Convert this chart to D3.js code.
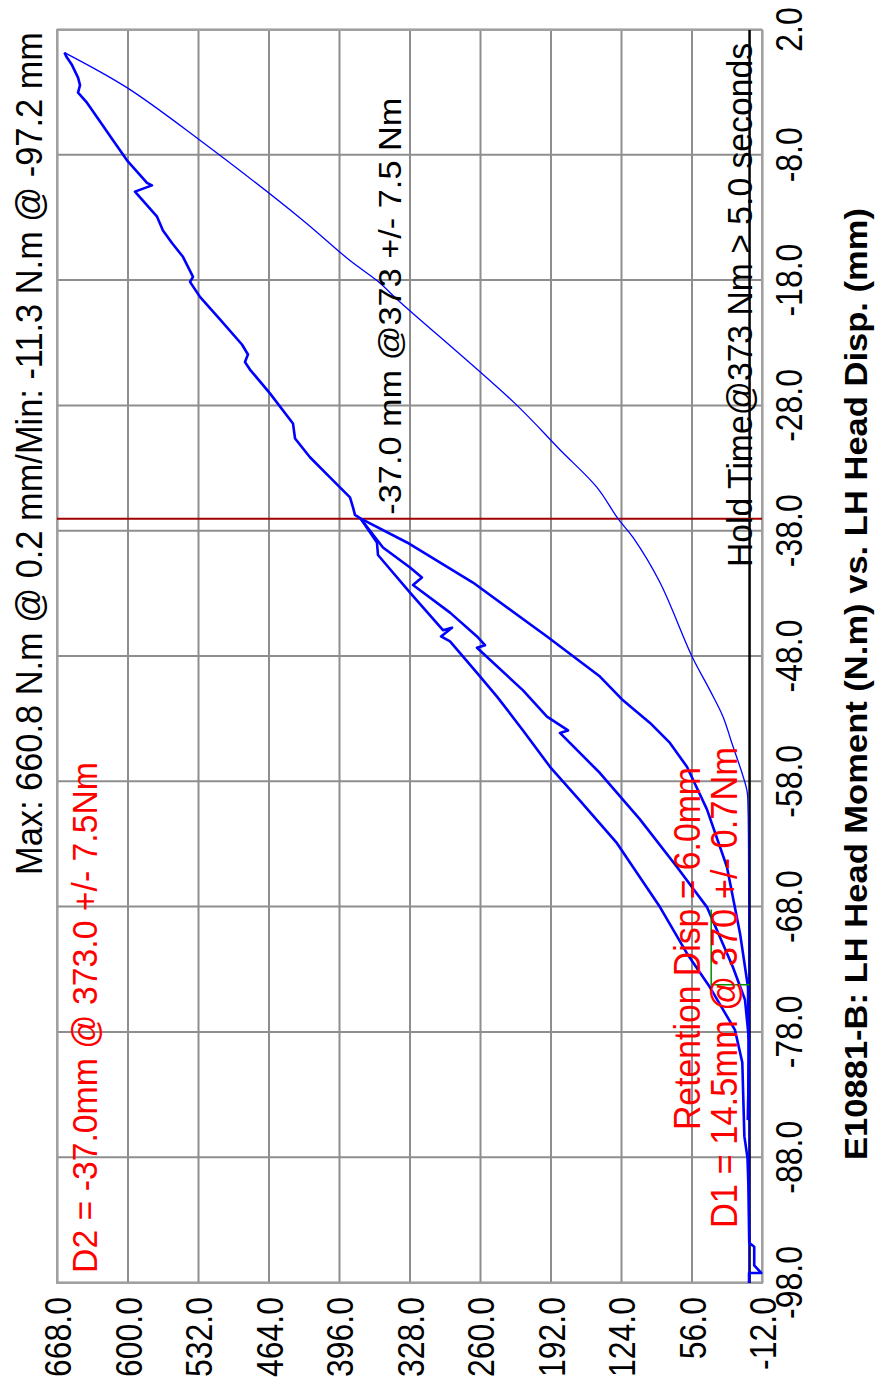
<!DOCTYPE html>
<html>
<head>
<meta charset="utf-8">
<script src="https://cdn.jsdelivr.net/npm/d3@7"></script>
<style>
body { margin: 0; background: #fff; }
svg { display: block; }
text { font-family: "Liberation Sans", Arial, sans-serif; }
</style>
</head>
<body>
<div id="chart"></div>
<script>
// tick labels
const dispTicks = [2, -8, -18, -28, -38, -48, -58, -68, -78, -88, -98];
const momentTicks = [668, 600, 532, 464, 396, 328, 260, 192, 124, 56, -12];

// hold point / retention marker
const holdDisp = -37.0;
const retentionDisp = [-68.2, -74.2];
const retentionMoment = 37;

// [disp mm, moment N.m]
const startPath = [[-98, 0.5], [-97.2, 0.5], [-97.2, -11.3], [-96.6, -4.5], [-95.1, -4.5], [-94.8, 0.3],
    [-90, 1.2], [-88, 2], [-86.3, 5], [-80.4, 7], [-77.8, 14.1], [-74.4, 38.2], [-71.7, 60.4], [-68.0, 86.4],
    [-62.9, 127.9], [-59.5, 163.6], [-56.8, 192.5], [-53.9, 218.5], [-51.2, 243.6], [-49.3, 262.9],
    [-46.8, 288.9], [-46.4, 297.6], [-45.7, 287], [-45.9, 295.7], [-42.9, 327.5], [-39.9, 358.4],
    [-38.9, 359.4], [-37.0, 375]];
const unloadPath = [[-37.0, 375], [-38.9, 330.4], [-42.1, 266.8], [-46.4, 195.4], [-49.6, 144.3],
    [-51.5, 122.1], [-53.3, 96.0], [-54.9, 76.8], [-56.8, 60.4], [-60.2, 41.1], [-64.8, 21.8],
    [-70.1, 9.2], [-74.4, 1.5], [-80, 0.8], [-85, 1.5]];
const reloadPath = [[-85, 1.5], [-78.6, 0.6], [-75.4, 4.4], [-72.8, 16.0], [-68.0, 41.1], [-64.8, 70.0],
    [-61.0, 105.7], [-57.3, 144.3], [-54.1, 182.9], [-53.9, 175.1], [-52.8, 195.4], [-50.7, 218.5],
    [-47.3, 262.9], [-47.1, 255.2], [-46.4, 262.9], [-44.5, 288.9], [-42.3, 324.6], [-41.7, 316.0],
    [-40.9, 327.5], [-39.3, 353.6], [-37.0, 375]];
const peakPath = [[-37.0, 375], [-36.7, 380.6], [-36.1, 382.5], [-35.3, 385.4], [-33.7, 404.7],
    [-32.1, 424.0], [-30.6, 438.4], [-29.4, 440.4], [-27.0, 462.6], [-25.1, 481.9], [-24.5, 486.7],
    [-23.9, 483.8], [-23.1, 489.6], [-21.1, 510.8], [-19.3, 530.1], [-18.1, 539.7], [-17.7, 536.8],
    [-16.1, 546.5], [-15.0, 557.1], [-14.0, 565.8], [-12.9, 571.5], [-10.9, 592.8], [-10.4, 576.4],
    [-10.2, 581.2], [-8.4, 600.5], [-6.8, 614.0], [-5.3, 626.5], [-3.8, 639.1], [-3.0, 647.7],
    [-2.4, 645.8], [-1.8, 647.7], [-0.8, 653.5], [-0.2, 658.4], [0.2, 660.8]];
const returnPath = [[0.2, 660.8], [-2.6, 600.5], [-6.8, 530.1], [-13.0, 433.6], [-16.4, 385.4],
    [-18.0, 359.4], [-19.7, 337.2], [-27.8, 226.3], [-31.5, 182.9], [-34.5, 147.2], [-37.0, 126.9],
    [-38.5, 112.4], [-42.1, 86.4], [-48.0, 55.5], [-50.7, 38.2], [-52.8, 25.6], [-54.8, 17.5],
    [-58.7, 2.5], [-60, 1.5], [-70, 0.8], [-85, 0.5], [-98, 0.3]];

const summaryText = 'Max: 660.8 N.m @ 0.2 mm/Min: -11.3 N.m @ -97.2 mm';
const titleText = 'E10881-B: LH Head Moment (N.m) vs. LH Head Disp. (mm)';
const holdLabel = '-37.0 mm @373 +/- 7.5 Nm';
const holdTimeLabel = 'Hold Time@373 Nm > 5.0 seconds';
const d2Label = 'D2 = -37.0mm @ 373.0 +/- 7.5Nm';
const retentionLabel = 'Retention Disp = 6.0mm';
const d1Label = 'D1 = 14.5mm @ 370 +/- 0.7Nm';

const width = 882, height = 1383;
const plotLen = 1253;  // displacement axis (screen vertical)
const plotDepth = 705; // moment axis (screen horizontal)

const svg = d3.select('#chart').append('svg')
    .attr('width', width)
    .attr('height', height);

// chart is drawn upright then turned a quarter left
const g = svg.append('g').attr('transform', 'translate(57,1283) rotate(-90)');

const x = d3.scaleLinear().domain([-98, 2]).range([0, plotLen]);
const y = d3.scaleLinear().domain([-12, 668]).range([plotDepth, 0]);
const fmt = d => d.toFixed(1);

const xAxis = g.append('g')
    .attr('transform', `translate(0,${plotDepth})`)
    .call(d3.axisBottom(x).tickValues(dispTicks).tickSize(plotDepth).tickFormat(fmt));
xAxis.selectAll('line').attr('y2', -plotDepth);
const yAxis = g.append('g')
    .call(d3.axisLeft(y).tickValues(momentTicks).tickSize(-plotLen).tickFormat(fmt));

[xAxis, yAxis].forEach(ax => {
    ax.select('.domain').remove();
    ax.selectAll('line').attr('stroke', '#8e8e8e').attr('stroke-width', 2);
    ax.selectAll('text').attr('fill', '#000').style('font-size', '32px')
        .attr('x', null).attr('y', null).attr('dy', null);
});
xAxis.selectAll('text').attr('transform', 'translate(0,40) scale(1,1.18)');
yAxis.selectAll('text').attr('transform', 'translate(-14,13.5) scale(1,1.18)');

g.append('rect')
    .attr('width', plotLen).attr('height', plotDepth)
    .attr('fill', 'none').attr('stroke', '#a0a0a0').attr('stroke-width', 2);

// zero moment line
g.append('line')
    .attr('x1', x(-98)).attr('x2', x(2))
    .attr('y1', y(0)).attr('y2', y(0))
    .attr('stroke', '#000').attr('stroke-width', 2.5);

// hold displacement marker
g.append('line')
    .attr('x1', x(holdDisp)).attr('x2', x(holdDisp))
    .attr('y1', y(668)).attr('y2', y(-12))
    .attr('stroke', '#a00000').attr('stroke-width', 2);

const line = d3.line().x(p => x(p[0])).y(p => y(p[1]));

[startPath, unloadPath, reloadPath, peakPath].forEach(path => {
    g.append('path').datum(path)
        .attr('d', line)
        .attr('fill', 'none')
        .attr('stroke', '#0000ff')
        .attr('stroke-width', 2.6)
        .attr('stroke-linejoin', 'round');
});
g.append('path').datum(returnPath)
    .attr('d', line.curve(d3.curveCatmullRom.alpha(0.5)))
    .attr('fill', 'none')
    .attr('stroke', '#0000ff')
    .attr('stroke-width', 1.3);
line.curve(d3.curveLinear);

// retention marker
g.append('path')
    .datum([[retentionDisp[0], retentionMoment], [retentionDisp[1], retentionMoment], [retentionDisp[1], 0]])
    .attr('d', line)
    .attr('fill', 'none')
    .attr('stroke', '#009000')
    .attr('stroke-width', 1.5);

function addText(str, u, v, len, size, sy, fill, weight) {
    g.append('text')
        .attr('transform', `translate(${u},${v}) scale(1,${sy})`)
        .attr('textLength', len)
        .attr('lengthAdjust', 'spacingAndGlyphs')
        .style('font-size', size + 'px')
        .style('font-weight', weight || 'normal')
        .attr('fill', fill)
        .text(str);
}

addText(summaryText, 408, -15, 843, 32, 1.18, '#000');
addText(titleText, 123, 810, 952, 28, 1.1, '#000', 'bold');
addText(holdLabel, x(holdDisp) + 4, 344, 417, 28, 1.15, '#000');
addText(holdTimeLabel, 716, 695, 524, 30, 1.16, '#000');
addText(d2Label, 10, 40, 511, 31, 1.16, '#ff0000');
addText(retentionLabel, 153, 643, 363, 32, 1.18, '#ff0000');
addText(d1Label, 55, 680, 481, 32, 1.18, '#ff0000');
</script>
</body>
</html>
